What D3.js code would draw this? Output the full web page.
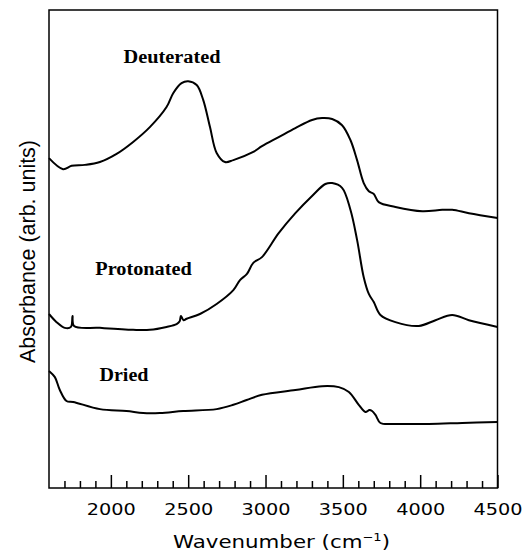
<!DOCTYPE html>
<html>
<head>
<meta charset="utf-8">
<script src="https://cdn.jsdelivr.net/npm/d3@7"></script>
<style>
  html, body { margin: 0; padding: 0; background: #fff; }
  svg { display: block; }
</style>
</head>
<body>
<svg id="chart" width="524" height="554"></svg>
<script>
// Wavenumber (cm^-1) of sampled points, and absorbance (arb. units) per spectrum
const deuteratedW = [1600,1691,1746,1832,1929,2037,2144,2252,2360,2403,2457,2500,2555,2597,2641,2684,2738,2792,2921,2977,3085,3193,3301,3366,3431,3495,3549,3592,3635,3668,3700,3732,3840,4014,4143,4207,4315,4500];
const deuteratedA = [69.0,66.7,67.4,67.6,68.2,69.9,72.4,75.5,79.7,82.6,84.7,85.1,84.3,81.2,75.5,70.1,68.2,68.6,70.3,71.5,73.4,75.3,77.0,77.4,77.2,75.9,72.8,68.6,63.8,62.1,61.5,59.8,58.8,57.9,58.2,58.2,57.5,56.5];

const protonatedW = [1600,1649,1702,1742,1752,1762,1929,2144,2252,2360,2425,2445,2453,2470,2490,2576,2684,2792,2835,2880,2921,2977,3085,3193,3301,3387,3431,3495,3549,3592,3635,3668,3700,3743,3840,3991,4099,4207,4315,4500];
const protonatedA = [36.4,34.7,33.5,33.7,36.0,33.9,33.5,33.1,33.1,33.7,34.3,34.9,36.0,35.1,35.4,36.4,38.5,41.4,43.5,44.8,47.1,48.3,53.3,57.5,61.1,63.6,63.8,62.8,58.2,51.9,44.1,40.6,38.9,36.2,34.7,33.9,35.1,36.2,35.1,33.7];

const driedW = [1600,1638,1670,1713,1756,1929,2101,2209,2317,2468,2684,2792,2878,2977,3193,3366,3474,3539,3603,3646,3672,3689,3711,3743,3840,4056,4272,4500];
const driedA = [24.5,23.2,20.5,18.2,18.0,16.5,16.1,15.7,15.7,16.1,16.5,17.4,18.4,19.5,20.5,21.3,21.1,20.1,17.4,15.9,16.3,16.1,15.3,13.6,13.4,13.4,13.6,13.8];

const seriesNames = ["Deuterated", "Protonated", "Dried"];
const majorTicks = [2000, 2500, 3000, 3500, 4000, 4500];
const minorTicks = d3.range(1700, 4500, 100).filter(v => v % 500 !== 0);

const svg = d3.select("#chart");
const L = 49, R = 497.5, T = 10, B = 488;

const x = d3.scaleLinear().domain([1600, 4500]).range([L, R]);
const y = d3.scaleLinear().domain([0, 100]).range([B, T]);

const series = [
  { name: seriesNames[0], w: deuteratedW, a: deuteratedA, lx: 172, ly: 63, lw: 97 },
  { name: seriesNames[1], w: protonatedW, a: protonatedA, lx: 143.5, ly: 275, lw: 96.5 },
  { name: seriesNames[2], w: driedW, a: driedA, lx: 124, ly: 381, lw: 49 }
];

const line = d3.line()
  .x(d => x(d[0]))
  .y(d => y(d[1]))
  .curve(d3.curveCatmullRom.alpha(0.5));

series.forEach(s => {
  svg.append("path")
    .datum(s.w.map((w, i) => [w, s.a[i]]))
    .attr("fill", "none")
    .attr("stroke", "#000")
    .attr("stroke-width", 2)
    .attr("stroke-linejoin", "round")
    .attr("d", line);

  svg.append("text")
    .attr("x", s.lx)
    .attr("y", s.ly)
    .attr("text-anchor", "middle")
    .attr("font-family", "'Liberation Serif', 'Times New Roman', serif")
    .attr("font-weight", "bold")
    .attr("font-size", 18)
    .attr("textLength", s.lw)
    .attr("lengthAdjust", "spacingAndGlyphs")
    .text(s.name);
});

// minor ticks
const minorAxis = svg.append("g")
  .attr("transform", `translate(0,${B})`)
  .call(d3.axisBottom(x).tickValues(minorTicks).tickSize(-7).tickFormat(""));
minorAxis.select(".domain").remove();
minorAxis.selectAll("line").attr("stroke-width", 1.5);

// major ticks
const majorAxis = svg.append("g")
  .attr("transform", `translate(0,${B})`)
  .call(d3.axisBottom(x).tickValues(majorTicks).tickSize(-13).tickFormat(d3.format("d")));
majorAxis.select(".domain").remove();
majorAxis.selectAll("line").attr("stroke-width", 1.5);
majorAxis.selectAll("text")
  .attr("y", 27)
  .attr("dy", 0)
  .attr("font-family", "'DejaVu Sans', Verdana, sans-serif")
  .attr("font-size", 16.5)
  .attr("fill", "#000")
  .attr("textLength", 49)
  .attr("lengthAdjust", "spacingAndGlyphs");

// frame
svg.append("rect")
  .attr("x", L).attr("y", T)
  .attr("width", R - L).attr("height", B - T)
  .attr("fill", "none")
  .attr("stroke", "#000")
  .attr("stroke-width", 1.5);

// axis titles
const xt = svg.append("text")
  .attr("x", 281.5)
  .attr("y", 548)
  .attr("text-anchor", "middle")
  .attr("font-family", "'DejaVu Sans', Verdana, sans-serif")
  .attr("font-size", 18)
  .attr("textLength", 217)
  .attr("lengthAdjust", "spacingAndGlyphs");
xt.append("tspan").text("Wavenumber (cm");
xt.append("tspan").attr("font-size", 11).attr("dy", -7).text("\u22121");
xt.append("tspan").attr("dy", 7).text(")");

svg.append("text")
  .attr("transform", "translate(35,251.5) rotate(-90)")
  .attr("text-anchor", "middle")
  .attr("font-family", "'Liberation Sans', Arial, sans-serif")
  .attr("font-size", 21.5)
  .attr("textLength", 223)
  .attr("lengthAdjust", "spacingAndGlyphs")
  .text("Absorbance (arb. units)");
</script>
</body>
</html>
